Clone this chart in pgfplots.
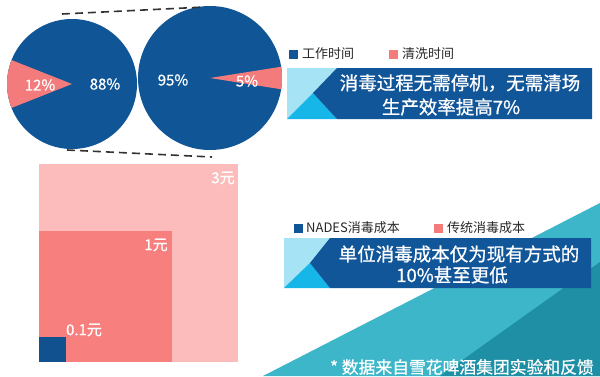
\documentclass[border=0pt]{standalone}
\usepackage{fontspec}
\setmainfont{Noto Sans CJK SC}
\newfontfamily\boldish{Noto Sans CJK SC}[FakeBold=0.8]
\usepackage{pgfplots}
\pgfplotsset{compat=1.18}
\definecolor{pieblue}{RGB}{16,85,150}
\definecolor{piepink}{RGB}{244,123,123}
\definecolor{sqlight}{RGB}{252,188,188}
\definecolor{sqmid}{RGB}{247,127,126}
\definecolor{sqblue}{RGB}{18,81,143}
\definecolor{bandark}{RGB}{18,86,154}
\definecolor{banlight}{RGB}{166,227,245}
\definecolor{bancyan}{RGB}{23,182,233}
\definecolor{teallight}{RGB}{61,182,202}
\definecolor{tealdark}{RGB}{30,143,165}
\definecolor{legtext}{RGB}{40,40,40}
\definecolor{dashc}{RGB}{50,50,50}
% pie data (percent of cleaning time)
\def\pieA{12}
\def\pieB{5}
\begin{document}
\begin{tikzpicture}
\begin{axis}[scale only axis, width=600pt, height=376pt,
  xmin=0, xmax=600, ymin=0, ymax=376, hide axis, clip=true]
% background
\addplot[fill=white, draw=none] coordinates {(0,0) (600,0) (600,376) (0,376)} -- cycle;
% teal background stripes
\addplot[fill=teallight, draw=none] coordinates {(263,0) (600,173) (600,0)} -- cycle;
\addplot[fill=tealdark, draw=none] coordinates {(440,0) (600,114) (600,0)} -- cycle;
% cost squares
\addplot[fill=sqlight, draw=none] coordinates {(39,14) (238,14) (238,212) (39,212)} -- cycle;
\addplot[fill=sqmid, draw=none] coordinates {(39,14) (172,14) (172,145) (39,145)} -- cycle;
\addplot[fill=sqblue, draw=none] coordinates {(39,14) (66,14) (66,39) (39,39)} -- cycle;
% pies
\pgfmathsetmacro{\hA}{\pieA*1.8}
\pgfmathsetmacro{\hB}{\pieB*1.8}
\fill[pieblue] (axis cs:72,292) circle[radius=65pt];
\fill[piepink] (axis cs:72,292) -- ++(180-\hA:65pt) arc[start angle=180-\hA, end angle=180+\hA, radius=65pt] -- cycle;
\fill[pieblue] (axis cs:210,298) circle[radius=72pt];
\fill[piepink] (axis cs:210,298) -- ++(-\hB:72pt) arc[start angle=-\hB, end angle=\hB, radius=72pt] -- cycle;
% dashed connectors
\addplot[dashc, line width=1.6pt, dash pattern=on 8pt off 5pt] coordinates {(62,362) (205,369)};
\addplot[dashc, line width=1.6pt, dash pattern=on 8pt off 5pt] coordinates {(67,226) (212,219)};
% pie labels
\node[text=white, font=\boldish\fontsize{15}{17}\selectfont] at (axis cs:40,291) {12\%};
\node[text=white, font=\boldish\fontsize{15}{17}\selectfont] at (axis cs:105,292) {88\%};
\node[text=white, font=\boldish\fontsize{15}{17}\selectfont] at (axis cs:173,296) {95\%};
\node[text=white, font=\boldish\fontsize{15}{17}\selectfont] at (axis cs:247,295) {5\%};
% legend 1
\addplot[only marks, mark=square*, mark size=4pt, color=pieblue] coordinates {(293,322)};
\addplot[only marks, mark=square*, mark size=4pt, color=piepink] coordinates {(393,322)};
\node[anchor=west, inner sep=0, text=legtext, font=\fontsize{13}{15}\selectfont] at (axis cs:302,322) {工作时间};
\node[anchor=west, inner sep=0, text=legtext, font=\fontsize{13}{15}\selectfont] at (axis cs:402,322) {清洗时间};
% banner 1
\addplot[fill=banlight, draw=none] coordinates {(287,308) (592,308) (592,257) (287,257)} -- cycle;
\addplot[fill=bancyan, draw=none] coordinates {(287,257) (313,283) (337,257)} -- cycle;
\addplot[fill=bandark, draw=none] coordinates {(337,308) (592,308) (592,257) (337,257) (313,283)} -- cycle;
\node[text=white, font=\boldish\fontsize{18.5}{20}\selectfont] at (axis cs:460,293) {消毒过程无需停机，无需清场};
\node[text=white, font=\boldish\fontsize{18.5}{20}\selectfont] at (axis cs:451,269) {生产效率提高7\%};
% square labels
\node[text=white, font=\boldish\fontsize{15}{17}\selectfont] at (axis cs:223,198) {3元};
\node[text=white, font=\boldish\fontsize{15}{17}\selectfont] at (axis cs:156,131) {1元};
\node[text=white, font=\boldish\fontsize{15}{17}\selectfont] at (axis cs:84,46) {0.1元};
% legend 2
\addplot[only marks, mark=square*, mark size=4pt, color=pieblue] coordinates {(298,148)};
\addplot[only marks, mark=square*, mark size=4pt, color=piepink] coordinates {(438,148)};
\node[anchor=west, inner sep=0, text=legtext, font=\fontsize{13}{15}\selectfont] at (axis cs:306,148) {NADES消毒成本};
\node[anchor=west, inner sep=0, text=legtext, font=\fontsize{13}{15}\selectfont] at (axis cs:447,148) {传统消毒成本};
% banner 2
\addplot[fill=banlight, draw=none] coordinates {(284,138) (591,138) (591,88) (284,88)} -- cycle;
\addplot[fill=bancyan, draw=none] coordinates {(284,88) (310,113) (330,88)} -- cycle;
\addplot[fill=bandark, draw=none] coordinates {(330,138) (591,138) (591,88) (330,88) (310,113)} -- cycle;
\node[text=white, font=\boldish\fontsize{18.5}{20}\selectfont] at (axis cs:459,122) {单位消毒成本仅为现有方式的};
\node[text=white, font=\boldish\fontsize{18.5}{20}\selectfont] at (axis cs:452,101) {10\%甚至更低};
% footnote
\node[anchor=west, inner sep=0, text=white, font=\boldish\fontsize{16.8}{18}\selectfont] at (axis cs:330,9) {* 数据来自雪花啤酒集团实验和反馈};
\end{axis}
\pgfresetboundingbox
\useasboundingbox (current axis.south west) rectangle (current axis.north east);
\end{tikzpicture}
\end{document}
